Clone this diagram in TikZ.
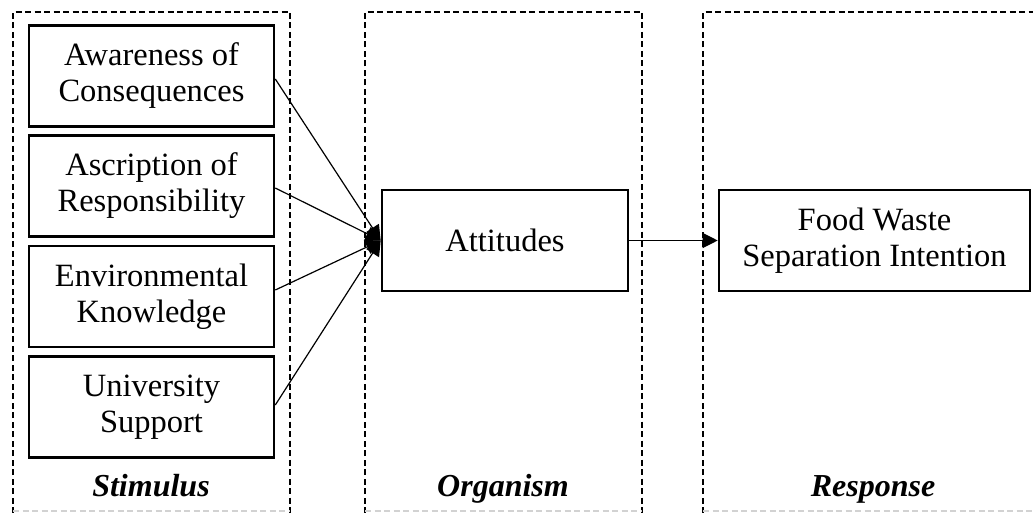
\documentclass[tikz,border=0pt]{standalone}
\usepackage{fontspec}
\setmainfont{Liberation Serif}
\usetikzlibrary{arrows.meta}
\begin{document}
\begin{tikzpicture}[x=1pt,y=-1pt,
  frame/.style={line width=2.4pt,dash pattern=on 6pt off 3.5pt},
  var/.style={draw,line width=2.6pt,minimum width=245pt,minimum height=101pt,inner sep=0pt,align=center,
    font=\fontsize{32.5}{36}\selectfont},
  lbl/.style={font=\fontsize{32}{36}\selectfont\bfseries\itshape,anchor=base},
  link/.style={line width=1.2pt,-{Triangle[length=15pt,width=15pt]}}]
\useasboundingbox (0,0) rectangle (1033,513);
% frames
\draw[frame] (13,513) -- (13,12) -- (290,12) -- (290,513);
\draw[frame] (365,513) -- (365,12) -- (642,12) -- (642,513);
\draw[frame] (703,513) -- (703,12) -- (1040,12);
\draw[gray!35,line width=1.2pt,dash pattern=on 6pt off 3.5pt] (13,511) -- (290,511) (365,511) -- (642,511) (703,511) -- (1033,511);
% nodes
\node[var] (ac) at (151.5,76) {Awareness of\\Consequences};
\node[var] (ar) at (151.5,186) {Ascription of\\Responsibility};
\node[var] (ek) at (151.5,296.5) {Environmental\\Knowledge};
\node[var] (us) at (151.5,407) {University\\Support};
\node[var,minimum width=246pt] (at) at (505,240.5) {Attitudes};
\node[var,minimum width=311pt] (fw) at (874.5,240.5) {Food Waste\\Separation Intention};
\node[lbl] (s) at (151,496) {Stimulus};
\node[lbl] (o) at (503,496) {Organism};
\node[lbl] (r) at (873,496) {Response};
% connectors
\draw[link] (ac.east |- 0,79) -- (at.west);
\draw[link] (ar.east |- 0,188) -- (at.west);
\draw[link] (ek.east |- 0,290) -- (at.west);
\draw[link] (us.east |- 0,405) -- (at.west);
\draw[link] (at.east) -- (fw.west);
\end{tikzpicture}
\end{document}
